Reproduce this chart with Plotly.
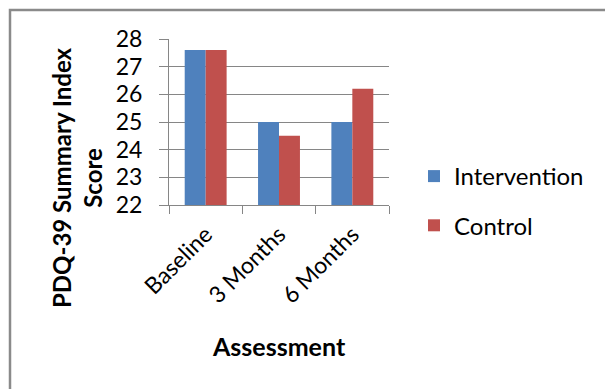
import plotly.graph_objects as go

# PDQ-39 summary index score by assessment point
categories = ["Baseline", "3 Months", "6 Months"]
intervention = [27.6, 25.0, 25.0]
control = [27.6, 24.5, 26.2]
y_ticks = [22, 23, 24, 25, 26, 27, 28]

W, H = 605, 389
ML, MR, MT, MB = 169, 216, 39, 184
PW, PH = W - ML - MR, H - MT - MB

FONT = "Lato"
GRID = "#868686"


def px_to_paper_x(px):
    return (px - ML) / PW


def px_to_paper_y(py):
    return 1 - (py - MT) / PH


fig = go.Figure()
fig.add_trace(go.Bar(name="Intervention", x=categories, y=intervention,
                     marker=dict(color="#4F81BD", line=dict(width=0)),
                     legendgroup="a"))
fig.add_trace(go.Bar(name="Control", x=categories, y=control,
                     marker=dict(color="#C0504D", line=dict(width=0)),
                     legendgroup="b"))

fig.update_layout(
    width=W, height=H,
    margin=dict(l=ML, r=MR, t=MT, b=MB, pad=0),
    paper_bgcolor="white", plot_bgcolor="white",
    barmode="group", bargap=1.5 / 3.5, bargroupgap=0,
    font=dict(family=FONT, size=23, color="#000000"),
    showlegend=True,
    legend=dict(x=px_to_paper_x(414), xanchor="left",
                y=px_to_paper_y(201), yanchor="middle",
                font=dict(family=FONT, size=24, color="#000000"),
                tracegroupgap=15, bgcolor="rgba(0,0,0,0)"),
    xaxis=dict(type="category", showgrid=False, showline=True,
               linecolor=GRID, linewidth=1, ticks="outside",
               tickson="boundaries", ticklen=8, tickcolor=GRID,
               tickangle=-45, ticklabelstandoff=6,
               tickfont=dict(family=FONT, size=23)),
    yaxis=dict(range=[22, 28], tickvals=y_ticks, showgrid=True,
               gridcolor=GRID, gridwidth=1, showline=True, linecolor=GRID,
               linewidth=1, ticks="outside", ticklen=9, tickcolor=GRID,
               ticklabelstandoff=12,
               tickfont=dict(family=FONT, size=23), zeroline=False),
)

# axis titles
fig.add_annotation(text="<b>PDQ-39 Summary Index<br>Score</b>",
                   xref="paper", yref="paper",
                   x=px_to_paper_x(77), y=px_to_paper_y(178),
                   xanchor="center", yanchor="middle", textangle=-90,
                   showarrow=False, align="center",
                   font=dict(family=FONT, size=24, color="#000000"))
fig.add_annotation(text="<b>Assessment</b>", xref="paper", yref="paper",
                   x=px_to_paper_x(279), y=px_to_paper_y(346),
                   xanchor="center", yanchor="middle", showarrow=False,
                   font=dict(family=FONT, size=25, color="#000000"))

# chart-area frame
fig.add_shape(type="rect", xref="paper", yref="paper",
              x0=px_to_paper_x(10), x1=px_to_paper_x(640),
              y0=px_to_paper_y(420), y1=px_to_paper_y(10),
              line=dict(color="#8A8A8A", width=2.5), layer="below")

fig.write_html("out.html")
